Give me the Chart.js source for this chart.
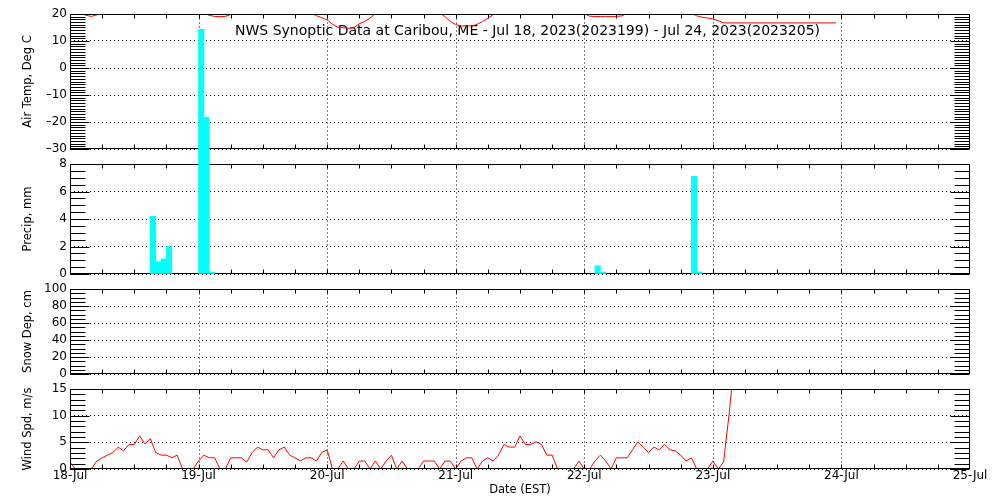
<!DOCTYPE html>
<html>
<head>
<meta charset="utf-8">
<title>NWS Synoptic Data at Caribou, ME</title>
<script src="https://cdn.jsdelivr.net/npm/chart.js@4/dist/chart.umd.min.js"></script>
<style>
  html, body { margin: 0; padding: 0; background: #fff; }
</style>
</head>
<body>
<canvas id="chart" width="1000" height="500"></canvas>
<script>
const chartTitle = 'NWS Synoptic Data at Caribou, ME - Jul 18, 2023(2023199) - Jul 24, 2023(2023205)';
const dayLabels = ['18-Jul', '19-Jul', '20-Jul', '21-Jul', '22-Jul', '23-Jul', '24-Jul', '25-Jul'];

// hourly values, hour 0 = Jul 18 00:00 EST
const tempValues = [
  20.6, 20.4, 20.4, 19.5, 19.1, 19.7, 20.6, 21.5, 22.8, 24.0,
  25.1, 26.0, 26.7, 27.2, 27.0, 26.4, 25.2, 24.1, 23.0, 22.2,
  21.6, 21.1, 20.8, 20.5, 20.3, 20.3, 19.5, 19.1, 19.0, 19.1,
  19.8, 20.1, 21.4, 22.9, 24.3, 25.6, 26.5, 27.3, 27.8, 27.5,
  26.6, 25.3, 23.8, 22.4, 21.1, 20.2, 19.4, 18.6, 17.8, 16.2,
  15.1, 14.9, 14.7, 14.9, 16.4, 17.2, 18.5, 20.1, 21.6, 23.0,
  24.2, 25.1, 25.8, 26.1, 25.7, 24.6, 23.2, 21.9, 20.9, 20.4,
  19.0, 17.2, 16.1, 15.5, 15.7, 15.5, 16.2, 17.2, 18.4, 19.8,
  20.5, 22.0, 23.4, 24.6, 25.5, 26.2, 26.4, 25.9, 24.8, 23.5,
  22.4, 21.6, 21.0, 20.7, 20.5, 20.3, 20.1, 19.2, 19.1, 19.1,
  19.1, 19.1, 19.1, 19.3, 20.2, 21.5, 22.9, 24.1, 25.0, 25.6,
  25.4, 24.6, 23.5, 22.4, 21.5, 20.8, 20.3, 19.3, 18.8, 18.5,
  18.2, 17.5, 16.7, 16.7, 16.7, 16.7, 16.7, 16.7, 16.7, 16.7,
  16.7, 16.7, 16.7, 16.7, 16.7, 16.7, 16.7, 16.7, 16.7, 16.7,
  16.7, 16.7, 16.7, 16.7
];

const windValues = [
  1.3, 0, 0, 0, 0, 1.5, 2.1, 2.6, 3.1, 4.1,
  3.4, 4.6, 4.6, 6.2, 4.7, 5.7, 3.1, 2.6, 2.6, 2.1,
  2.6, 0, 0, 0, 1.5, 2.6, 2.1, 2.1, 0, 0,
  2.1, 2.1, 2.1, 1.3, 3.1, 4.1, 3.6, 3.6, 2.1, 3.6,
  4.1, 2.6, 2.1, 1.5, 2.1, 2.1, 1.5, 3.1, 3.6, 0,
  0, 1.5, 0, 0, 1.5, 1.5, 0, 1.5, 0, 1.5,
  2.6, 0, 1.5, 0, 0, 0, 1.5, 1.5, 1.5, 0,
  1.5, 1.5, 0, 1.5, 2.1, 2.1, 0, 1.5, 2.1, 1.5,
  2.6, 4.6, 4.1, 4.1, 6.2, 4.6, 4.6, 5.1, 4.6, 2.6,
  2.6, 0, 0, 0, 0, 1.5, 0, 0, 1.5, 2.6,
  1.5, 0, 2.1, 2.1, 2.1, 3.6, 5.1, 4.1, 3.1, 4.1,
  3.6, 4.6, 3.6, 3.4, 2.6, 1.5, 2.1, 0, 0, 0,
  1.5, 0, 1.3, 10, 20
];

// precipitation per hour, centred on the hour it covers
const precipHours = [15.5, 16.5, 17.5, 18.5, 24.5, 25.5, 26.5, 98.5, 99.5, 116.5, 117.5];
const precipValues = [4.2, 0.9, 1.1, 2.0, 17.8, 11.4, 0.15, 0.6, 0.15, 7.1, 0.15];

const snowValues = [];

const tickFont = { family: 'DejaVu Sans', size: 12 };
const labelFont = { family: 'DejaVu Sans', size: 11.5 };

const panels = [
  { id: 'yT', minor: 1, step: 10 },
  { id: 'yP', minor: 0.5, step: 2 },
  { id: 'yS', minor: 5, step: 20 },
  { id: 'yW', minor: 1, step: 5 }
];

function panelAxis(min, max, step, title, weight, stackWeight) {
  return {
    type: 'linear', position: 'left', stack: 'panels', weight: weight, stackWeight: stackWeight,
    min: min, max: max,
    ticks: {
      stepSize: step, autoSkip: false, color: '#000', font: tickFont, padding: 3,
      callback: v => v < 0 ? '\u2013' + (-v) : String(v)
    },
    grid: { color: '#000', lineWidth: 1, drawTicks: false },
    border: { display: false, dash: [1, 3] },
    title: { display: true, text: title, color: '#000', font: labelFont, padding: { top: 21, bottom: 0 } },
    afterFit: s => { s.width = 70; }
  };
}

function gapAxis(weight, stackWeight) {
  return {
    type: 'linear', position: 'left', stack: 'panels', weight: weight, stackWeight: stackWeight,
    ticks: { display: false }, grid: { display: false, drawTicks: false }, border: { display: false },
    afterFit: s => { s.width = 70; }
  };
}

function seg(ctx, x1, y1, x2, y2) {
  ctx.beginPath();
  ctx.moveTo(x1, y1);
  ctx.lineTo(x2, y2);
  ctx.stroke();
}

// frames, day grid lines and the dense minor ticks of each panel
const panelFrame = {
  id: 'panelFrame',
  beforeDatasetsDraw(chart) {
    const { ctx, chartArea, scales } = chart;
    const xs = scales.x;
    const left = Math.round(chartArea.left) + 0.5;
    const right = Math.round(chartArea.right) - 0.5;
    ctx.save();
    ctx.strokeStyle = '#000';
    ctx.lineWidth = 1;
    panels.forEach(p => {
      const s = scales[p.id];
      const top = Math.round(s.top) + 0.5;
      const bottom = Math.round(s.bottom) - 0.5;
      ctx.setLineDash([1, 3]);
      xs.ticks.forEach(t => {
        if (t.value <= xs.min || t.value >= xs.max) return;
        const px = Math.round(xs.getPixelForValue(t.value)) + 0.5;
        seg(ctx, px, top, px, bottom);
      });
      ctx.setLineDash([]);
      for (let h = xs.min + 6; h < xs.max; h += 6) {
        const px = Math.round(xs.getPixelForValue(h)) + 0.5;
        seg(ctx, px, top, px, top + 4);
        seg(ctx, px, bottom - 4, px, bottom);
      }
      for (let v = s.min; v <= s.max + 1e-9; v += p.minor) {
        const py = Math.round(s.getPixelForValue(v)) + 0.5;
        const major = Math.abs(v / p.step - Math.round(v / p.step)) < 1e-6;
        const len = major ? 19 : 15;
        seg(ctx, left, py, left + len, py);
        seg(ctx, right - len, py, right, py);
      }
      ctx.strokeRect(left, top, right - left, bottom - top);
    });
    ctx.font = '14px "DejaVu Sans"';
    ctx.fillStyle = '#000';
    ctx.textBaseline = 'alphabetic';
    ctx.fillText(chartTitle, chartArea.left + 165, scales.yT.top + 21);
    ctx.restore();
  }
};

// lines stay inside their own panel
const panelClip = {
  id: 'panelClip',
  beforeDatasetDraw(chart, args) {
    if (args.meta.type !== 'line') return;
    const { ctx, chartArea } = chart;
    const s = args.meta.yScale;
    ctx.save();
    ctx.beginPath();
    ctx.rect(chartArea.left + 1, s.top + 1, chartArea.width - 2, s.bottom - s.top - 2);
    ctx.clip();
  },
  afterDatasetDraw(chart, args) {
    if (args.meta.type === 'line') chart.ctx.restore();
  }
};

new Chart(document.getElementById('chart'), {
  type: 'line',
  data: {
    datasets: [
      {
        label: 'Air Temp',
        yAxisID: 'yT',
        data: tempValues.map((v, i) => ({ x: i, y: v })),
        borderColor: '#ff0000', borderWidth: 1, pointRadius: 0, tension: 0
      },
      {
        type: 'bar',
        label: 'Precip',
        yAxisID: 'yP',
        data: precipHours.map((h, i) => ({ x: h, y: precipValues[i] })),
        backgroundColor: '#00ffff', borderWidth: 0,
        barPercentage: 1, categoryPercentage: 1, clip: false
      },
      {
        label: 'Snow Dep',
        yAxisID: 'yS',
        data: snowValues,
        borderColor: '#ff0000', borderWidth: 1, pointRadius: 0
      },
      {
        label: 'Wind Spd',
        yAxisID: 'yW',
        data: windValues.map((v, i) => ({ x: i, y: v })),
        borderColor: '#ff0000', borderWidth: 1, pointRadius: 0, tension: 0
      }
    ]
  },
  options: {
    responsive: false,
    animation: false,
    devicePixelRatio: 1,
    layout: { padding: { top: 14, right: 30, bottom: 0, left: 0 } },
    plugins: { legend: { display: false }, tooltip: { enabled: false } },
    scales: {
      x: {
        type: 'linear', position: 'bottom', min: 0, max: 168, offset: false,
        ticks: {
          stepSize: 24, autoSkip: false, maxRotation: 0, padding: 0,
          color: '#000', font: tickFont,
          callback: v => dayLabels[v / 24]
        },
        grid: { display: false, drawTicks: false },
        border: { display: false },
        title: { display: true, text: 'Date (EST)', color: '#000', font: labelFont, padding: { top: 0, bottom: 3 } },
        afterFit: s => { s.height = 31; }
      },
      yT: panelAxis(-30, 20, 10, 'Air Temp, Deg C', 7, 135),
      g1: gapAxis(6, 15),
      yP: panelAxis(0, 8, 2, 'Precip, mm', 5, 110),
      g2: gapAxis(4, 15),
      yS: panelAxis(0, 100, 20, 'Snow Dep, cm', 3, 85),
      g3: gapAxis(2, 15),
      yW: panelAxis(0, 15, 5, 'Wind Spd, m/s', 1, 80)
    }
  },
  plugins: [panelFrame, panelClip]
});
</script>
</body>
</html>
